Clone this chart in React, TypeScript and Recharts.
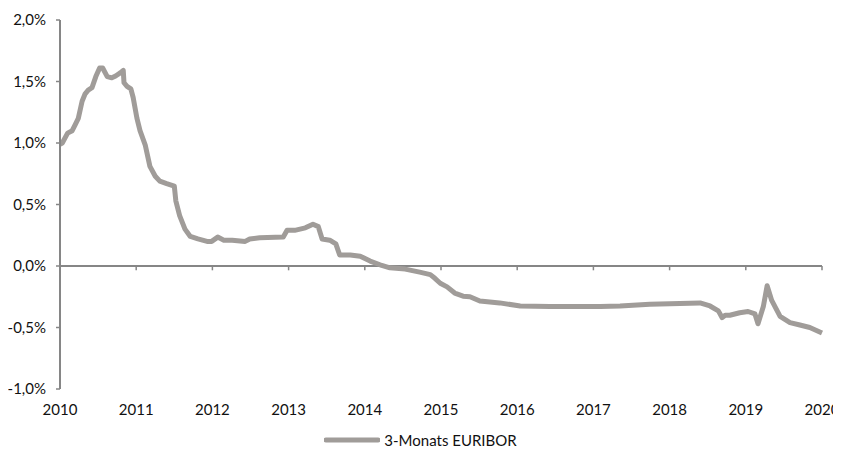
import React from 'react';
import { LineChart, Line, XAxis, YAxis, ReferenceLine, Legend } from 'recharts';

// Zeitpunkte (Dezimaljahre) und 3-Monats EURIBOR in %
const dates = [
  2010.0, 2010.03, 2010.1, 2010.16, 2010.2, 2010.24, 2010.29, 2010.33, 2010.37, 2010.42,
  2010.47, 2010.52, 2010.56, 2010.62, 2010.68, 2010.73, 2010.79, 2010.83, 2010.84, 2010.88,
  2010.93, 2010.96, 2011.01, 2011.05, 2011.12, 2011.18, 2011.25, 2011.31, 2011.4, 2011.5,
  2011.52, 2011.57, 2011.64, 2011.71, 2011.81, 2011.93, 2011.99, 2012.07, 2012.15, 2012.26,
  2012.43, 2012.49, 2012.62, 2012.93, 2012.98, 2013.08, 2013.22, 2013.32, 2013.39, 2013.44,
  2013.54, 2013.62, 2013.67, 2013.81, 2013.94, 2014.07, 2014.2, 2014.33, 2014.53, 2014.72,
  2014.86, 2014.92, 2014.99, 2015.08, 2015.18, 2015.29, 2015.38, 2015.51, 2015.77, 2016.04,
  2016.43, 2017.09, 2017.35, 2017.74, 2018.4, 2018.53, 2018.64, 2018.69, 2018.73, 2018.79,
  2018.92, 2019.03, 2019.12, 2019.16, 2019.23, 2019.28, 2019.34, 2019.45, 2019.58, 2019.71,
  2019.84, 2020.0,
];

const rates = [
  0.99, 1.0, 1.08, 1.1, 1.15, 1.2, 1.34, 1.4, 1.43, 1.45,
  1.54, 1.61, 1.61, 1.54, 1.53, 1.545, 1.57, 1.59, 1.49, 1.46,
  1.44, 1.37, 1.2, 1.1, 0.98, 0.81, 0.73, 0.69, 0.67, 0.65,
  0.53, 0.41, 0.3, 0.24, 0.22, 0.2, 0.2, 0.235, 0.21, 0.21,
  0.2, 0.22, 0.23, 0.235, 0.29, 0.29, 0.31, 0.34, 0.32, 0.22,
  0.21, 0.18, 0.09, 0.09, 0.08, 0.04, 0.01, -0.015, -0.025, -0.05,
  -0.07, -0.1, -0.14, -0.17, -0.22, -0.245, -0.25, -0.285, -0.3, -0.325,
  -0.33, -0.33, -0.325, -0.31, -0.3, -0.325, -0.365, -0.42, -0.4, -0.4,
  -0.38, -0.37, -0.39, -0.47, -0.33, -0.16, -0.28, -0.41, -0.46, -0.48,
  -0.5, -0.545,
];

const yearTicks = [2010, 2011, 2012, 2013, 2014, 2015, 2016, 2017, 2018, 2019, 2020];
const rateTicks = [-1, -0.5, 0, 0.5, 1, 1.5, 2];
const seriesName = '3-Monats EURIBOR';

const data = dates.map((d, i) => ({ date: d, rate: rates[i] }));

const lineColor = '#a09c99';
const axisColor = '#868686';
const font = 'Lato, sans-serif';

const fmtPct = (v: number) => v.toFixed(1).replace('.', ',') + '%';

// Achsenbeschriftung als eigenes Text-Element
const AxisTick = (props: any) => {
  const { x, y, payload, textAnchor, format, dy } = props;
  const label = format ? format(payload.value) : String(payload.value);
  return (
    <text x={x} y={y} dy={dy} textAnchor={textAnchor} fill="#111" fontFamily={font} fontSize={15}>
      {label}
    </text>
  );
};

const LegendContent = () => (
  <div style={{ fontFamily: font, fontSize: 15, display: 'flex', justifyContent: 'center', alignItems: 'center', height: 30, paddingTop: 12, boxSizing: 'border-box', lineHeight: '16px', color: '#111' }}>
    <svg width={56} height={8} style={{ marginRight: 4 }}>
      <line x1={2} y1={4} x2={54} y2={4} stroke={lineColor} strokeWidth={5} strokeLinecap="round" />
    </svg>
    <span>{seriesName}</span>
  </div>
);

export default function App() {
  return (
    <div style={{ margin: '-8px 0 0 -8px', width: 841, height: 449 }}>
      <LineChart
        width={841}
        height={449}
        data={data}
        margin={{ top: 20, right: 19, left: 0, bottom: 0 }}
      >
        <XAxis
          dataKey="date"
          type="number"
          domain={[2010, 2020]}
          ticks={yearTicks}
          axisLine={false}
          tickLine={false}
          tickSize={0}
          tickMargin={15}
          height={30}
          interval={0}
          tick={<AxisTick dy={11} />}
        />
        <YAxis
          domain={[-1, 2]}
          ticks={rateTicks}
          width={60}
          interval={0}
          axisLine={{ stroke: axisColor, strokeWidth: 2 }}
          tickLine={{ stroke: axisColor, strokeWidth: 1.5 }}
          tickSize={4}
          tickMargin={10}
          tick={<AxisTick dy={5} format={fmtPct} />}
        />
        <ReferenceLine y={0} stroke={axisColor} strokeWidth={2} />
        {yearTicks.slice(1).map((yr) => (
          <ReferenceLine
            key={yr}
            segment={[{ x: yr, y: 0 }, { x: yr, y: -0.035 }]}
            stroke={axisColor}
            strokeWidth={1.5}
          />
        ))}
        <Line
          type="linear"
          dataKey="rate"
          name={seriesName}
          stroke={lineColor}
          strokeWidth={5}
          strokeLinejoin="round"
          dot={false}
          isAnimationActive={false}
        />
        <Legend
          verticalAlign="bottom"
          content={<LegendContent />}
          wrapperStyle={{ width: '100%', left: 0, height: 30 }}
        />
      </LineChart>
    </div>
  );
}
